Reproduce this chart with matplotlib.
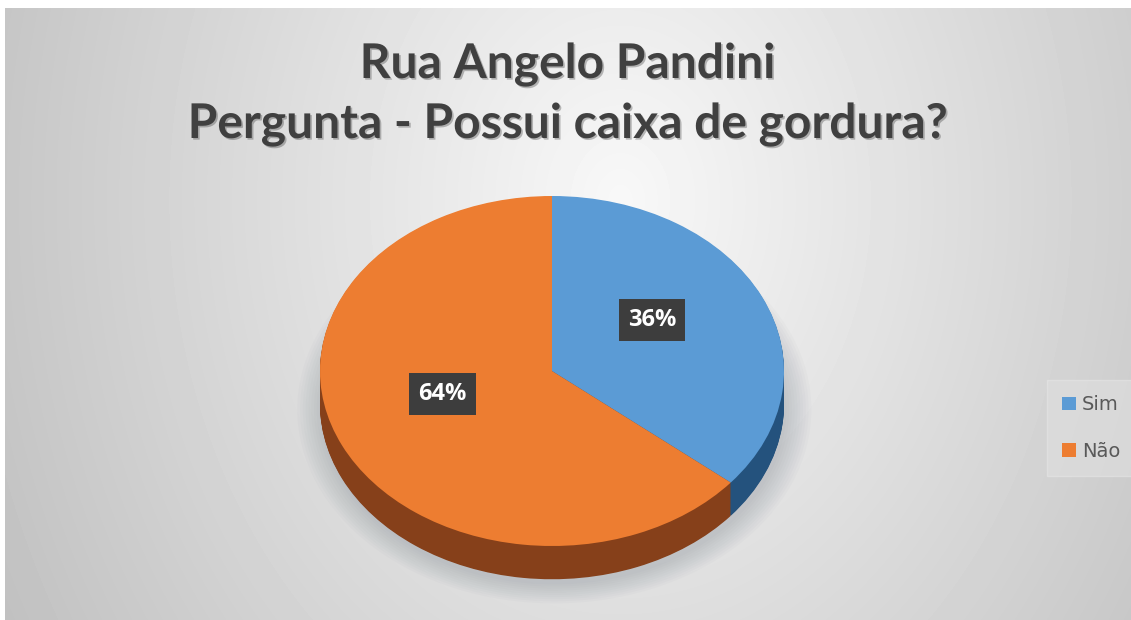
import numpy as np
import matplotlib.pyplot as plt
import matplotlib.patheffects as pe

categorias = ['Sim', 'Não']
percentuais = [36, 64]
cores_topo = ['#5b9bd5', '#ed7d31']
cores_lado = ['#24527d', '#86401a']

W, H = 1131, 620
fig = plt.figure(figsize=(W / 100, H / 100), dpi=100)
fig.patch.set_facecolor('white')

# fundo com gradiente radial (area do grafico)
bg = fig.add_axes([5 / W, 0, 1 - 5 / W, (H - 8) / H])
bg.set_axis_off()
xx, yy = np.meshgrid(np.arange(5, W), np.arange(8, H))
r = np.sqrt(((xx - 620) / 491.0 * 39) ** 2 + ((yy - 200) / 432.0 * 27) ** 2)
val = np.clip(248 - r, 0, 255) / 255.0
bg.imshow(val, cmap='gray', vmin=0, vmax=1, aspect='auto', interpolation='bilinear')

# pizza "3D": fatias empilhadas para a lateral
cx_px, cy_px, rx_px, ry_px = 552, 371, 232, 175
prof = 0.19
ylo, yhi = -1.4, 1.1
ax = fig.add_axes([(cx_px - 1.05 * rx_px) / W, (H - (cy_px - ylo * ry_px)) / H,
                   2.1 * rx_px / W, (yhi - ylo) * ry_px / H])

# sombra suave
for i in range(10):
    ax.pie([1], radius=1.0 + 0.012 * i, center=(0.01, -prof - 0.03),
           colors=['#7a8590'], wedgeprops=dict(alpha=0.035, linewidth=0))

n = 40
for k in range(n, 0, -1):
    ax.pie(percentuais, startangle=90, counterclock=False, colors=cores_lado,
           center=(0, -prof * k / n), wedgeprops=dict(linewidth=0))

wedges, _, autotexts = ax.pie(percentuais, startangle=90, counterclock=False,
                              colors=cores_topo, autopct='%d%%', pctdistance=0.5,
                              wedgeprops=dict(linewidth=0))
for t in autotexts:
    x, y = t.get_position()
    t.set_position((x - 0.02, y + 0.08))
    t.set_color('white')
    t.set_fontsize(17)
    t.set_fontweight('bold')
    t.set_fontfamily('Open Sans')
    t.set_bbox(dict(boxstyle='square,pad=0.38', fc='#3d3d3d', ec='none'))

ax.set_aspect('auto')
ax.set_xlim(-1.05, 1.05)
ax.set_ylim(ylo, yhi)
ax.set_axis_off()

# titulo
sombra = [pe.SimplePatchShadow(offset=(1.2, -1.2), shadow_rgbFace='#000000', alpha=0.25), pe.Normal()]
fig.text(567 / W, 1 - 78 / H, 'Rua Angelo Pandini', ha='center', va='baseline',
         fontsize=34.5, fontweight='bold', family='Lato', color='#404040', path_effects=sombra)
fig.text(567 / W, 1 - 138 / H, 'Pergunta - Possui caixa de gordura?', ha='center', va='baseline',
         fontsize=34.5, fontweight='bold', family='Lato', color='#404040', path_effects=sombra)

leg = fig.legend(wedges, categorias, loc='center left', bbox_to_anchor=(1037 / W, 1 - 428 / H),
                 fontsize=14, labelspacing=1.4, handlelength=0.7, handleheight=0.7,
                 handletextpad=0.3, borderpad=0.8, frameon=True, fancybox=False)
leg.get_frame().set_facecolor('#e0e0e0')
leg.get_frame().set_edgecolor('#e6e6e6')
leg.get_frame().set_alpha(0.6)
for t in leg.get_texts():
    t.set_color('#595959')

fig.savefig('out.png', dpi=100)
